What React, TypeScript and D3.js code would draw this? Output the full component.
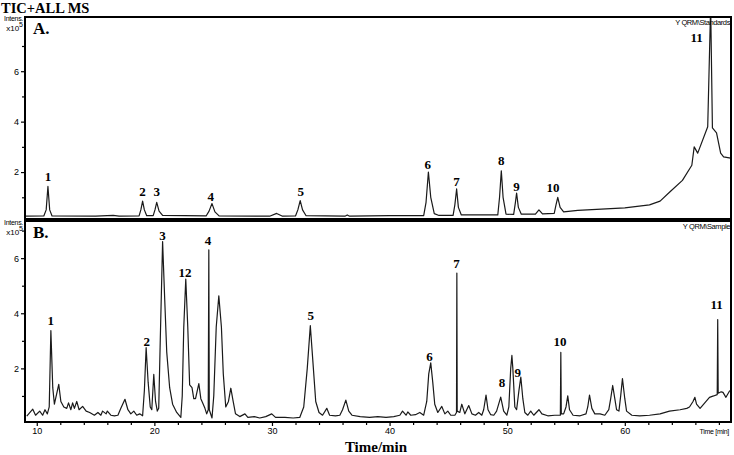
import React, { useEffect, useRef } from 'react';
import * as d3 from 'd3';

const width = 734;
const height = 455;

// [retention time (min), intensity (x10^5)]
const standardsTrace: [number, number][] = [
  [9.0, 0.25], [10.6, 0.26], [10.8, 0.5], [10.95, 1.43], [11.1, 0.5], [11.3, 0.26],
  [15.0, 0.25], [16.5, 0.28], [17.0, 0.25], [18.7, 0.26], [18.85, 0.5], [19.0, 0.85],
  [19.15, 0.5], [19.35, 0.27], [19.9, 0.27], [20.05, 0.5], [20.2, 0.8], [20.4, 0.45],
  [20.7, 0.28], [24.4, 0.26], [24.65, 0.45], [24.9, 0.75], [25.15, 0.42], [25.5, 0.26],
  [29.8, 0.25], [30.4, 0.36], [30.9, 0.25], [32.0, 0.26], [32.2, 0.5], [32.4, 0.87],
  [32.6, 0.5], [32.9, 0.27], [36.2, 0.25], [36.4, 0.3], [36.6, 0.25], [40.0, 0.27],
  [42.9, 0.27], [43.1, 0.8], [43.3, 2.0], [43.5, 1.0], [43.8, 0.35], [44.2, 0.28],
  [45.4, 0.28], [45.55, 0.7], [45.7, 1.33], [45.85, 0.6], [46.1, 0.3], [49.2, 0.3],
  [49.35, 1.0], [49.5, 2.05], [49.65, 1.0], [49.9, 0.33], [50.55, 0.32], [50.7, 0.8],
  [50.8, 1.17], [50.95, 0.6], [51.2, 0.33], [52.4, 0.33], [52.7, 0.5], [53.0, 0.34],
  [54.0, 0.36], [54.15, 0.7], [54.3, 1.0], [54.5, 0.6], [54.8, 0.42], [56.0, 0.48],
  [58.0, 0.53], [60.0, 0.58], [62.1, 0.7], [63.0, 0.85], [63.8, 1.2], [64.9, 1.67],
  [65.7, 2.27], [65.9, 3.0], [66.2, 2.75], [67.05, 3.8], [67.3, 8.6], [67.45, 3.75],
  [67.8, 3.55], [68.15, 2.75], [68.4, 2.6], [69.0, 2.55],
];

const sampleTrace: [number, number][] = [
  [9.15, 0.27], [9.66, 0.52], [9.9, 0.3], [10.25, 0.45], [10.5, 0.3], [10.7, 0.5],
  [10.9, 0.35], [11.06, 0.6], [11.2, 3.37], [11.36, 1.3], [11.5, 0.7], [11.87, 1.42],
  [12.05, 0.8], [12.3, 0.6], [12.55, 0.55], [12.7, 0.75], [12.9, 0.5], [13.05, 0.75],
  [13.2, 0.55], [13.4, 0.8], [13.6, 0.5], [13.9, 0.62], [14.2, 0.45], [14.5, 0.4],
  [14.9, 0.3], [15.2, 0.4], [15.45, 0.3], [15.6, 0.45], [15.9, 0.35], [16.0, 0.45],
  [16.3, 0.3], [16.6, 0.28], [16.9, 0.3], [17.15, 0.55], [17.5, 0.88], [17.75, 0.5],
  [18.0, 0.35], [18.25, 0.45], [18.5, 0.3], [18.75, 0.35], [19.0, 0.28], [19.15, 1.2],
  [19.3, 2.75], [19.47, 1.5], [19.65, 0.6], [19.78, 0.5], [19.95, 1.78], [20.1, 0.8],
  [20.25, 0.45], [20.37, 0.55], [20.5, 3.0], [20.7, 6.6], [20.88, 4.5], [21.05, 2.6],
  [21.3, 1.3], [21.55, 0.7], [21.9, 0.4], [22.25, 0.22], [22.37, 1.0], [22.5, 3.5],
  [22.67, 5.24], [22.84, 3.5], [23.0, 1.4], [23.2, 1.3], [23.35, 0.9], [23.5, 0.9],
  [23.78, 1.45], [23.95, 0.9], [24.1, 0.75], [24.3, 0.55], [24.45, 0.35], [24.58, 0.5],
  [24.63, 6.3], [24.67, 0.5], [24.9, 0.2], [25.05, 1.0], [25.26, 3.5], [25.48, 4.63],
  [25.7, 3.5], [25.86, 1.8], [26.07, 0.6], [26.3, 0.8], [26.5, 1.28], [26.7, 0.8],
  [26.9, 0.35], [27.26, 0.25], [27.7, 0.35], [27.95, 0.22], [28.5, 0.25], [28.96, 0.2],
  [29.47, 0.25], [29.98, 0.35], [30.3, 0.22], [31.1, 0.22], [31.8, 0.2], [32.36, 0.22],
  [32.7, 0.6], [33.0, 2.0], [33.26, 3.55], [33.47, 2.3], [33.72, 0.8], [34.0, 0.4],
  [34.3, 0.3], [34.66, 0.55], [34.9, 0.3], [35.4, 0.28], [35.77, 0.3], [36.0, 0.5],
  [36.28, 0.85], [36.53, 0.45], [36.8, 0.3], [37.5, 0.25], [38.3, 0.22], [39.0, 0.25],
  [39.7, 0.22], [40.36, 0.25], [40.87, 0.3], [41.1, 0.45], [41.4, 0.3], [41.55, 0.42],
  [41.8, 0.3], [42.2, 0.32], [42.57, 0.4], [42.9, 0.3], [43.16, 0.8], [43.33, 1.8],
  [43.5, 2.2], [43.67, 1.5], [43.84, 0.7], [44.1, 0.4], [44.44, 0.62], [44.7, 0.35],
  [44.95, 0.45], [45.2, 0.3], [45.55, 0.3], [45.69, 0.4], [45.72, 5.46], [45.75, 0.45],
  [45.97, 0.4], [46.14, 0.7], [46.4, 0.35], [46.73, 0.65], [47.0, 0.35], [47.3, 0.3],
  [47.58, 0.4], [47.84, 0.3], [48.0, 0.5], [48.2, 1.03], [48.37, 0.5], [48.6, 0.32],
  [48.86, 0.3], [49.1, 0.45], [49.45, 0.96], [49.7, 0.45], [49.97, 0.3], [50.14, 0.6],
  [50.3, 2.0], [50.4, 2.47], [50.48, 2.0], [50.65, 0.6], [50.8, 0.5], [51.0, 1.2],
  [51.16, 1.68], [51.33, 0.9], [51.5, 0.4], [51.75, 0.3], [52.0, 0.45], [52.26, 0.3],
  [52.7, 0.5], [52.95, 0.35], [53.45, 0.28], [54.05, 0.3], [54.52, 0.3], [54.56, 2.58],
  [54.6, 0.35], [54.8, 0.35], [55.0, 0.6], [55.15, 1.0], [55.3, 0.5], [55.6, 0.3],
  [56.2, 0.28], [56.7, 0.35], [56.85, 0.6], [57.0, 1.03], [57.2, 0.55], [57.45, 0.35],
  [57.9, 0.35], [58.3, 0.3], [58.64, 0.5], [58.8, 0.9], [58.97, 1.38], [59.15, 0.9],
  [59.3, 0.5], [59.5, 0.45], [59.65, 1.0], [59.8, 1.63], [60.0, 0.9], [60.15, 0.45],
  [60.6, 0.3], [61.27, 0.28], [62.1, 0.3], [63.0, 0.35], [63.8, 0.45], [64.7, 0.5],
  [65.27, 0.55], [65.5, 0.6], [65.8, 0.8], [65.96, 0.95], [66.1, 0.7], [66.4, 0.55],
  [66.8, 0.75], [67.2, 0.95], [67.55, 1.0], [67.86, 1.05], [67.9, 3.77], [67.94, 1.1],
  [68.2, 1.15], [68.35, 1.13], [68.6, 0.95], [68.93, 1.2],
];

// [peak number, time, intensity of the label baseline]
const standardsLabels: [string, number, number][] = [
  ['1', 10.95, 1.64], ['2', 19.0, 1.05], ['3', 20.2, 1.05], ['4', 24.8, 0.85],
  ['5', 32.45, 1.05], ['6', 43.25, 2.12], ['7', 45.7, 1.45], ['8', 49.5, 2.28],
  ['9', 50.8, 1.25], ['10', 53.9, 1.21], ['11', 66.1, 7.15],
];

const sampleLabels: [string, number, number][] = [
  ['1', 11.2, 3.59], ['2', 19.35, 2.83], ['3', 20.7, 6.67], ['12', 22.6, 5.32],
  ['4', 24.55, 6.47], ['5', 33.3, 3.77], ['6', 43.4, 2.25], ['7', 45.7, 5.64],
  ['8', 49.55, 1.32], ['9', 50.9, 1.68], ['10', 54.5, 2.83], ['11', 67.8, 4.16],
];

const timeTicks = [10, 20, 30, 40, 50, 60];
const timeMinorTicks = [12, 14, 16, 18, 22, 24, 26, 28, 32, 34, 36, 38, 42, 44, 46, 48,
  52, 54, 56, 58, 62, 64, 66, 68];
const intensTicks = [2, 4, 6];
const intensMinorTicks = [1, 3, 5, 7];

const left = 25;
const right = 731;
const panels = [
  { id: 'A', name: 'A.', file: 'Y QRM\\Standards', top: 17, bottom: 219, y0: 222.5, yMax: 8.13, trace: standardsTrace, labels: standardsLabels },
  { id: 'B', name: 'B.', file: 'Y QRM\\Sample', top: 221, bottom: 422, y0: 423.5, yMax: 7.33, trace: sampleTrace, labels: sampleLabels },
];

const serif = '"Liberation Serif", "Times New Roman", serif';
const sans = '"Liberation Sans", Arial, sans-serif';

const App = () => {
  const svgRef = useRef<SVGSVGElement>(null);

  useEffect(() => {
    const svg = d3.select(svgRef.current);
    svg.selectAll('*').remove();

    const x = d3.scaleLinear().domain([9, 69.03]).range([left, right]);

    svg.append('text')
      .attr('x', 1).attr('y', 13)
      .attr('font-family', serif).attr('font-weight', 'bold').attr('font-size', 14.5)
      .text('TIC+ALL MS');

    panels.forEach(p => {
      const y = d3.scaleLinear().domain([0, p.yMax]).range([p.y0, p.top + 0.5]);

      svg.append('clipPath').attr('id', `clip${p.id}`)
        .append('rect')
        .attr('x', left).attr('y', p.top)
        .attr('width', right - left).attr('height', p.bottom - p.top);

      const line = d3.line<[number, number]>()
        .x(d => x(d[0]))
        .y(d => y(d[1]));

      svg.append('path')
        .datum(p.trace)
        .attr('clip-path', `url(#clip${p.id})`)
        .attr('d', line)
        .attr('fill', 'none')
        .attr('stroke', '#1a1a1a')
        .attr('stroke-width', 1.2)
        .attr('stroke-linejoin', 'round');

      svg.append('rect')
        .attr('x', left).attr('y', p.top)
        .attr('width', right - left).attr('height', p.bottom - p.top)
        .attr('fill', 'none').attr('stroke', '#000').attr('stroke-width', 2);

      const yAxis = svg.append('g')
        .attr('transform', `translate(${left},0)`)
        .call(d3.axisLeft(y).tickValues(intensTicks).tickSize(4).tickPadding(2).tickFormat(d3.format('d')));
      const yMinor = svg.append('g')
        .attr('transform', `translate(${left},0)`)
        .call(d3.axisLeft(y).tickValues(intensMinorTicks).tickSize(3).tickFormat(() => ''));
      [yAxis, yMinor].forEach(g => {
        g.select('.domain').remove();
        g.selectAll('line').attr('stroke-width', 1.2);
        g.selectAll('text').attr('font-family', sans).attr('font-size', 9).attr('fill', '#000');
      });

      svg.append('text')
        .attr('x', 23).attr('y', p.top + 4)
        .attr('text-anchor', 'end')
        .attr('font-family', sans).attr('font-size', 7).attr('letter-spacing', -0.3)
        .text('Intens.');
      const exp = svg.append('text')
        .attr('x', 23).attr('y', p.top + 14)
        .attr('text-anchor', 'end')
        .attr('font-family', sans).attr('font-size', 8);
      exp.append('tspan').text('x10');
      exp.append('tspan').attr('dy', -4).attr('font-size', 7).text('5');

      svg.append('text')
        .attr('x', left + 8).attr('y', p.top + 17)
        .attr('font-family', serif).attr('font-weight', 'bold').attr('font-size', 17)
        .text(p.name);

      svg.append('text')
        .attr('x', right - 1).attr('y', p.top + 8)
        .attr('text-anchor', 'end')
        .attr('font-family', sans).attr('font-size', 7.5).attr('letter-spacing', -0.4)
        .text(p.file);

      svg.append('g')
        .selectAll('text')
        .data(p.labels)
        .join('text')
        .attr('x', d => x(d[1]))
        .attr('y', d => y(d[2]))
        .attr('text-anchor', 'middle')
        .attr('font-family', serif).attr('font-weight', 'bold').attr('font-size', 13)
        .text(d => d[0]);
    });

    const bottom = panels[1].bottom;
    const xAxis = svg.append('g')
      .attr('transform', `translate(0,${bottom})`)
      .call(d3.axisBottom(x).tickValues(timeTicks).tickSize(4).tickPadding(2).tickFormat(d3.format('d')));
    const xMinor = svg.append('g')
      .attr('transform', `translate(0,${bottom})`)
      .call(d3.axisBottom(x).tickValues(timeMinorTicks).tickSize(3).tickFormat(() => ''));
    [xAxis, xMinor].forEach(g => {
      g.select('.domain').remove();
      g.selectAll('line').attr('stroke-width', 1.2);
      g.selectAll('text').attr('font-family', sans).attr('font-size', 9).attr('fill', '#000');
    });

    svg.append('text')
      .attr('x', right - 2).attr('y', bottom + 12)
      .attr('text-anchor', 'end')
      .attr('font-family', sans).attr('font-size', 7).attr('letter-spacing', -0.3)
      .text('Time [min]');

    svg.append('text')
      .attr('x', 376).attr('y', 452)
      .attr('text-anchor', 'middle')
      .attr('font-family', serif).attr('font-weight', 'bold').attr('font-size', 15)
      .text('Time/min');
  }, []);

  return (
    <svg ref={svgRef} width={width} height={height}
      style={{ position: 'absolute', left: 0, top: 0, background: '#fff' }} />
  );
};

export default App;
